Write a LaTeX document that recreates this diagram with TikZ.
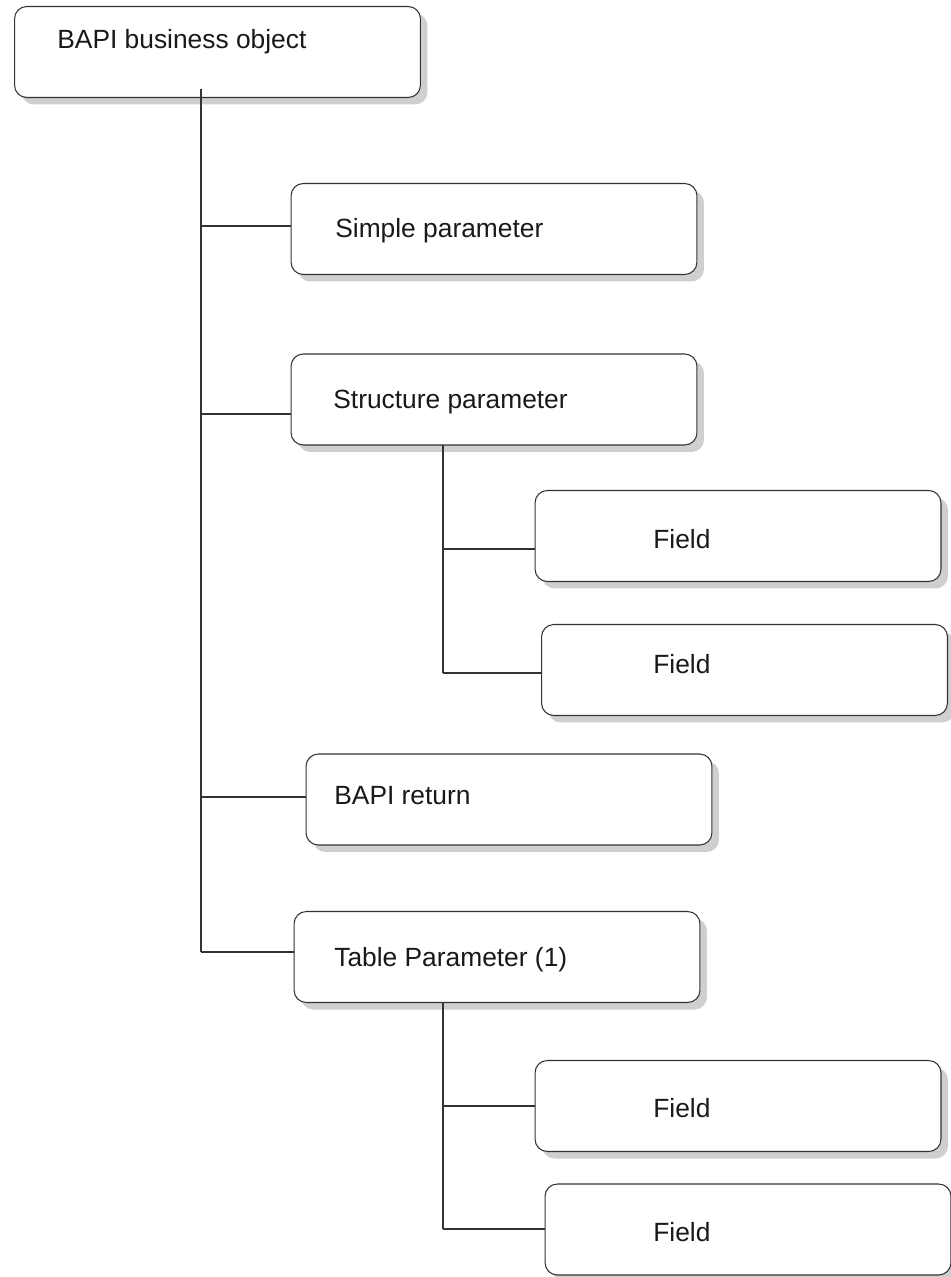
\documentclass[tikz,border=0pt]{standalone}
\usepackage{fontspec}
\setmainfont{Liberation Sans}
\usetikzlibrary{shadows,calc}

\begin{document}
\begin{tikzpicture}[x=0.02cm,y=-0.02cm,
    box/.style={draw=black!80,fill=white,line width=0.6pt,rounded corners=7pt,
      minimum width=8.12cm,minimum height=1.82cm,inner sep=0pt,
      drop shadow={shadow xshift=0.14cm,shadow yshift=-0.14cm,fill=black!19,opacity=1}},
    lbl/.style={anchor=base west,inner sep=0pt,text=black!90,
      font=\fontsize{15}{18}\selectfont},
    link/.style={line width=0.6pt,draw=black!80}]
      \useasboundingbox (0,0) rectangle (950,1277);
      \node[box] (bo) at (217.5,52) {};
      \node[box] (simple) at (494,229) {};
      \node[box] (struct) at (494,399.5) {};
      \node[box] (sfield1) at (738,536) {};
      \node[box] (sfield2) at (744.5,670) {};
      \node[box] (ret) at (509,799.5) {};
      \node[box] (tab) at (497,957) {};
      \node[box] (tfield1) at (738,1106) {};
      \node[box] (tfield2) at (748,1229.5) {};
      \node[lbl] (bo-t) at (57,49) {BAPI business object};
      \node[lbl] (simple-t) at (335,237) {Simple parameter};
      \node[lbl] (struct-t) at (333,408) {Structure parameter};
      \node[lbl] (sfield1-t) at (653,548) {Field};
      \node[lbl] (sfield2-t) at (653,673) {Field};
      \node[lbl] (ret-t) at (334,804) {BAPI return};
      \node[lbl] (tab-t) at (334,966) {Table Parameter (1)};
      \node[lbl] (tfield1-t) at (653,1117) {Field};
      \node[lbl] (tfield2-t) at (653,1241) {Field};
      % trunks
      \coordinate (trunk) at (201,89);
      \coordinate (sub1) at (443,445);
      \coordinate (sub2) at (443,1002);
      \foreach \n/\dy in {simple/-3,struct/14.5,ret/-2.5,tab/-5,sfield1/13,sfield2/3,tfield1/0,tfield2/-0.5}
        \path ($(\n.west)+(0,\dy)$) coordinate (\n-in);
      \draw[link] (trunk) -- (trunk |- tab-in);
      \draw[link] (sub1) -- (sub1 |- sfield2-in);
      \draw[link] (sub2) -- (sub2 |- tfield2-in);
      \foreach \n in {simple,struct,ret,tab}
        \draw[link] (\n-in) -- (\n-in -| trunk);
      \foreach \n in {sfield1,sfield2}
        \draw[link] (\n-in) -- (\n-in -| sub1);
      \foreach \n in {tfield1,tfield2}
        \draw[link] (\n-in) -- (\n-in -| sub2);
\end{tikzpicture}
\end{document}
